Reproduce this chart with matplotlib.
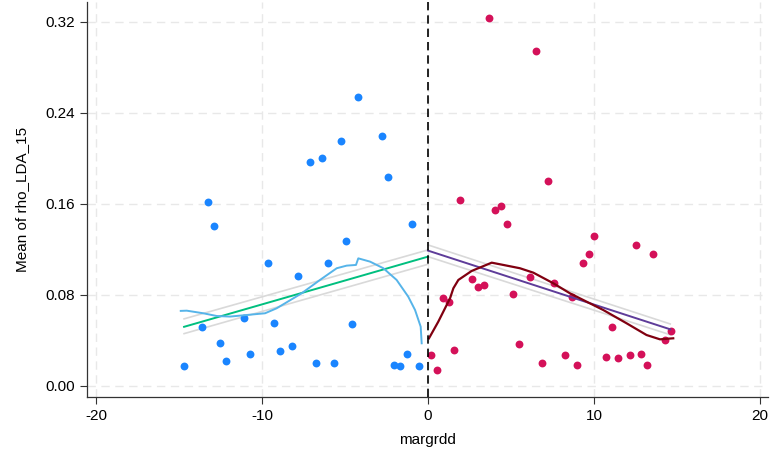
import matplotlib
matplotlib.use("Agg")
import matplotlib.pyplot as plt
import numpy as np

plt.rcParams['font.family'] = ['Liberation Sans', 'DejaVu Sans']
plt.rcParams['axes.unicode_minus'] = False

# binned means, left of cutoff
left_x = [-14.7, -13.6, -13.25, -12.89, -12.51, -12.17, -11.08, -10.7, -9.64, -9.26,
          -8.92, -8.19, -7.81, -7.09, -6.73, -6.37, -6.02, -5.64, -5.26, -4.94,
          -4.56, -4.2, -2.75, -2.39, -2.05, -1.67, -1.28, -0.95, -0.56]
left_y = [0.0179, 0.0522, 0.162, 0.1404, 0.0375, 0.0217, 0.0595, 0.0284, 0.1081, 0.0551,
          0.0308, 0.0349, 0.0963, 0.197, 0.0202, 0.2007, 0.1081, 0.0202, 0.215, 0.1277,
          0.0548, 0.254, 0.2198, 0.1835, 0.0185, 0.0179, 0.0281, 0.1421, 0.0176]

# binned means, right of cutoff
right_x = [0.2, 0.54, 0.88, 1.24, 1.59, 1.95, 2.63, 2.99, 3.35, 3.69,
           4.06, 4.4, 4.76, 5.12, 5.46, 6.16, 6.51, 6.87, 7.23, 7.59,
           8.27, 8.66, 8.99, 9.34, 9.68, 10.02, 10.74, 11.08, 11.45, 12.15,
           12.51, 12.85, 13.21, 13.55, 14.28, 14.62]
right_y = [0.0275, 0.0141, 0.0774, 0.0738, 0.0316, 0.1635, 0.0938, 0.087, 0.0885, 0.3238,
           0.1544, 0.158, 0.1421, 0.0809, 0.0366, 0.0958, 0.2948, 0.0202, 0.1802, 0.0903,
           0.0275, 0.0782, 0.0181, 0.1081, 0.116, 0.1316, 0.0255, 0.0519, 0.0243, 0.0275,
           0.1242, 0.0281, 0.0188, 0.116, 0.0404, 0.0484]

# linear fits and CI bounds
fit_left_x = [-14.7, 0.0]
fit_left_y = [0.052, 0.1137]
ci_left_hi = [0.059, 0.1196]
ci_left_lo = [0.046, 0.107]
fit_right_x = [0.0, 14.6]
fit_right_y = [0.119, 0.0498]
ci_right_hi = [0.124, 0.0545]
ci_right_lo = [0.1137, 0.045]

# lowess curves
low_left_x = [-14.9, -14.54, -13.54, -12.73, -11.93, -10.92, -9.82, -9.12, -8.11, -7.61,
              -6.51, -5.5, -4.9, -4.34, -4.2, -3.49, -2.69, -1.89, -1.19, -0.78, -0.44, -0.38]
low_left_y = [0.066, 0.0662, 0.0639, 0.0615, 0.061, 0.0624, 0.0639, 0.0683, 0.0771, 0.0815,
              0.0932, 0.1035, 0.1058, 0.1064, 0.1122, 0.1093, 0.1035, 0.0932, 0.0785, 0.0668,
              0.0521, 0.0375]
low_right_x = [0.06, 0.62, 1.33, 1.53, 1.83, 2.63, 3.84, 4.54, 5.54, 6.35,
               7.55, 8.55, 9.56, 10.56, 11.97, 13.17, 13.98, 14.78]
low_right_y = [0.0419, 0.0565, 0.0771, 0.0859, 0.0932, 0.1011, 0.1084, 0.1064, 0.1035, 0.0996,
               0.0903, 0.0815, 0.0741, 0.0668, 0.0551, 0.0448, 0.041, 0.0419]

fig = plt.figure(figsize=(7.72, 4.5), dpi=100)
ax = fig.add_axes([0.1127, 0.1178, 0.8823, 0.8778])

ax.grid(True, color='#e8e8e8', linestyle=(0, (6, 4)), linewidth=1.0, zorder=0)

ax.scatter(left_x, left_y, s=32, color='#1a85ff', zorder=3, linewidths=0)
ax.scatter(right_x, right_y, s=32, color='#d41159', zorder=3, linewidths=0)

for hi, lo, fx in [(ci_left_hi, ci_left_lo, fit_left_x), (ci_right_hi, ci_right_lo, fit_right_x)]:
    ax.plot(fx, hi, color='#d9d9d9', linewidth=1.2, zorder=2)
    ax.plot(fx, lo, color='#d9d9d9', linewidth=1.2, zorder=2)

ax.plot(fit_left_x, fit_left_y, color='#00bf7f', linewidth=1.4, zorder=4)
ax.plot(fit_right_x, fit_right_y, color='#5e3c99', linewidth=1.4, zorder=4)

ax.plot(low_left_x, low_left_y, color='#56b4e9', linewidth=1.4, zorder=4)
ax.plot(low_right_x, low_right_y, color='#800010', linewidth=1.6, zorder=4)

ax.axvline(0, color='black', linestyle=(0, (5, 3)), linewidth=1.2, zorder=5)

ax.set_xlim(-20.55, 20.5)
ax.set_ylim(-0.0097, 0.3376)
ax.set_xticks([-20, -10, 0, 10, 20])
ax.set_yticks([0.0, 0.08, 0.16, 0.24, 0.32])
ax.set_yticklabels(['0.00', '0.08', '0.16', '0.24', '0.32'])
ax.tick_params(labelsize=11, length=5, width=0.8, color='#333333')

for side in ['top', 'right']:
    ax.spines[side].set_visible(False)
for side in ['left', 'bottom']:
    ax.spines[side].set_color('#333333')
    ax.spines[side].set_linewidth(0.9)

ax.set_xlabel('margrdd', fontsize=11, labelpad=7)
ax.set_ylabel('Mean of rho_LDA_15', fontsize=11, labelpad=12)

fig.savefig('out.png', dpi=100)
